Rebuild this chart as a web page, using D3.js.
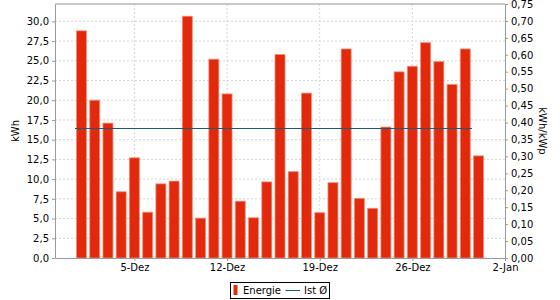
<!DOCTYPE html>
<html>
<head>
<meta charset="utf-8">
<script src="https://cdn.jsdelivr.net/npm/d3@7"></script>
<style>
  body { margin: 0; background: #fff; }
  text { font-family: "DejaVu Sans", sans-serif; }
</style>
</head>
<body>
<div id="chart"></div>
<script>
// daily energy, December
const days = ["2012-12-01","2012-12-02","2012-12-03","2012-12-04","2012-12-05","2012-12-06","2012-12-07",
  "2012-12-08","2012-12-09","2012-12-10","2012-12-11","2012-12-12","2012-12-13","2012-12-14","2012-12-15",
  "2012-12-16","2012-12-17","2012-12-18","2012-12-19","2012-12-20","2012-12-21","2012-12-22","2012-12-23",
  "2012-12-24","2012-12-25","2012-12-26","2012-12-27","2012-12-28","2012-12-29","2012-12-30","2012-12-31"];
const energie = [28.8, 20.0, 17.1, 8.4, 12.7, 5.8, 9.4, 9.75, 30.65, 5.05, 25.2, 20.8, 7.2, 5.1, 9.65,
  25.8, 10.95, 20.9, 5.75, 9.55, 26.5, 7.55, 6.3, 16.6, 23.6, 24.3, 27.3, 24.9, 22.0, 26.5, 12.95];

// average line (kWh/kWp)
const istDates = ["2012-11-30T12:00", "2012-12-30T12:00"];
const istValue = [0.381, 0.381];

const xDomain = ["2012-11-29", "2013-01-02"];
const xTicks = ["2012-12-05", "2012-12-12", "2012-12-19", "2012-12-26", "2013-01-02"];
const xTickLabels = ["5-Dez", "12-Dez", "19-Dez", "26-Dez", "2-Jan"];
const leftMax = 32.2;
const leftTicks = d3.range(0, 30.01, 2.5);
const rightMax = 0.75;
const rightTicks = d3.range(0, 0.7501, 0.05);

const margin = { top: 4, right: 55, bottom: 42, left: 55 };
const width = 560 - margin.left - margin.right;
const height = 300 - margin.top - margin.bottom;

const parse = s => new Date(s + (s.length > 10 ? ":00Z" : "T00:00:00Z"));

const svg = d3.select("#chart").append("svg")
  .attr("width", 560).attr("height", 300);
const g = svg.append("g").attr("transform", `translate(${margin.left},${margin.top})`);

const x = d3.scaleUtc().domain(xDomain.map(parse)).range([0, width]);
const yL = d3.scaleLinear().domain([0, leftMax]).range([height, 0]);
const yR = d3.scaleLinear().domain([0, rightMax]).range([height, 0]);
const comma = f => v => d3.format(f)(v).replace(".", ",");

// grid
const gridColor = "#d6d6d6";
g.append("g").selectAll("line").data(leftTicks.filter(d => d > 0)).join("line")
  .attr("x1", 0).attr("x2", width)
  .attr("y1", d => yL(d)).attr("y2", d => yL(d))
  .attr("stroke", gridColor).attr("stroke-dasharray", "2,2");
g.append("g").selectAll("line").data(xTicks.slice(0, -1)).join("line")
  .attr("x1", d => x(parse(d))).attr("x2", d => x(parse(d)))
  .attr("y1", 0).attr("y2", height)
  .attr("stroke", gridColor).attr("stroke-dasharray", "2,2");

// bars
const bw = 10;
g.append("g").selectAll("rect").data(days.map((d, i) => ({ date: parse(d), v: energie[i] }))).join("rect")
  .attr("x", d => x(d.date) - bw / 2)
  .attr("width", bw)
  .attr("y", d => yL(d.v))
  .attr("height", d => yL(0) - yL(d.v))
  .attr("fill", "#e3290b")
  .attr("stroke", "rgba(240,140,120,0.75)")
  .attr("stroke-width", 1);

// average line
g.append("path")
  .datum(istDates.map((d, i) => ({ date: parse(d), v: istValue[i] })))
  .attr("fill", "none").attr("stroke", "#1a5a78").attr("stroke-width", 1)
  .attr("shape-rendering", "crispEdges")
  .attr("d", d3.line().x(d => x(d.date)).y(d => yR(d.v)));

// axes
const axisColor = "#9a9a9a";
const styleAxis = sel => {
  sel.select(".domain").attr("stroke", axisColor);
  sel.selectAll(".tick line").attr("stroke", axisColor);
  sel.selectAll(".tick text").attr("fill", "#000").style("font-size", "10px");
};
g.append("g")
  .call(d3.axisLeft(yL).tickValues(leftTicks).tickFormat(comma(".1f")).tickSize(3).tickSizeOuter(0).tickPadding(3))
  .call(styleAxis);
g.append("g").attr("transform", `translate(${width},0)`)
  .call(d3.axisRight(yR).tickValues(rightTicks).tickFormat(comma(".2f")).tickSize(3).tickSizeOuter(0).tickPadding(3))
  .call(styleAxis);
g.append("g").attr("transform", `translate(0,${height})`)
  .call(d3.axisBottom(x).tickValues(xTicks.map(parse)).tickFormat((d, i) => xTickLabels[i]).tickSize(3).tickSizeOuter(0).tickPadding(3))
  .call(styleAxis);
g.append("line").attr("x1", 0).attr("x2", width).attr("y1", 0).attr("y2", 0)
  .attr("stroke", "#b5b5b5").attr("stroke-width", 1.5);

// axis titles
svg.append("text").attr("transform", `translate(19,${margin.top + height / 2}) rotate(-90)`)
  .attr("text-anchor", "middle").style("font-size", "10px").text("kWh");
svg.append("text").attr("transform", `translate(539,${margin.top + height / 2}) rotate(90)`)
  .attr("text-anchor", "middle").style("font-size", "10px").text("kWh/kWp");

// legend
const lg = svg.append("g").attr("transform", "translate(230,282)");
lg.append("rect").attr("x", 0.5).attr("y", 0.5).attr("width", 99).attr("height", 16)
  .attr("fill", "#fff").attr("stroke", "#000");
lg.append("rect").attr("x", 3.5).attr("y", 3).attr("width", 4).attr("height", 10).attr("fill", "#e3290b");
lg.append("text").attr("x", 13).attr("y", 12).style("font-size", "10px").text("Energie");
lg.append("line").attr("x1", 55.5).attr("x2", 70).attr("y1", 8.5).attr("y2", 8.5).attr("stroke", "#1a5a78");
lg.append("text").attr("x", 74).attr("y", 12).style("font-size", "10px").text("Ist Ø");
</script>
</body>
</html>
